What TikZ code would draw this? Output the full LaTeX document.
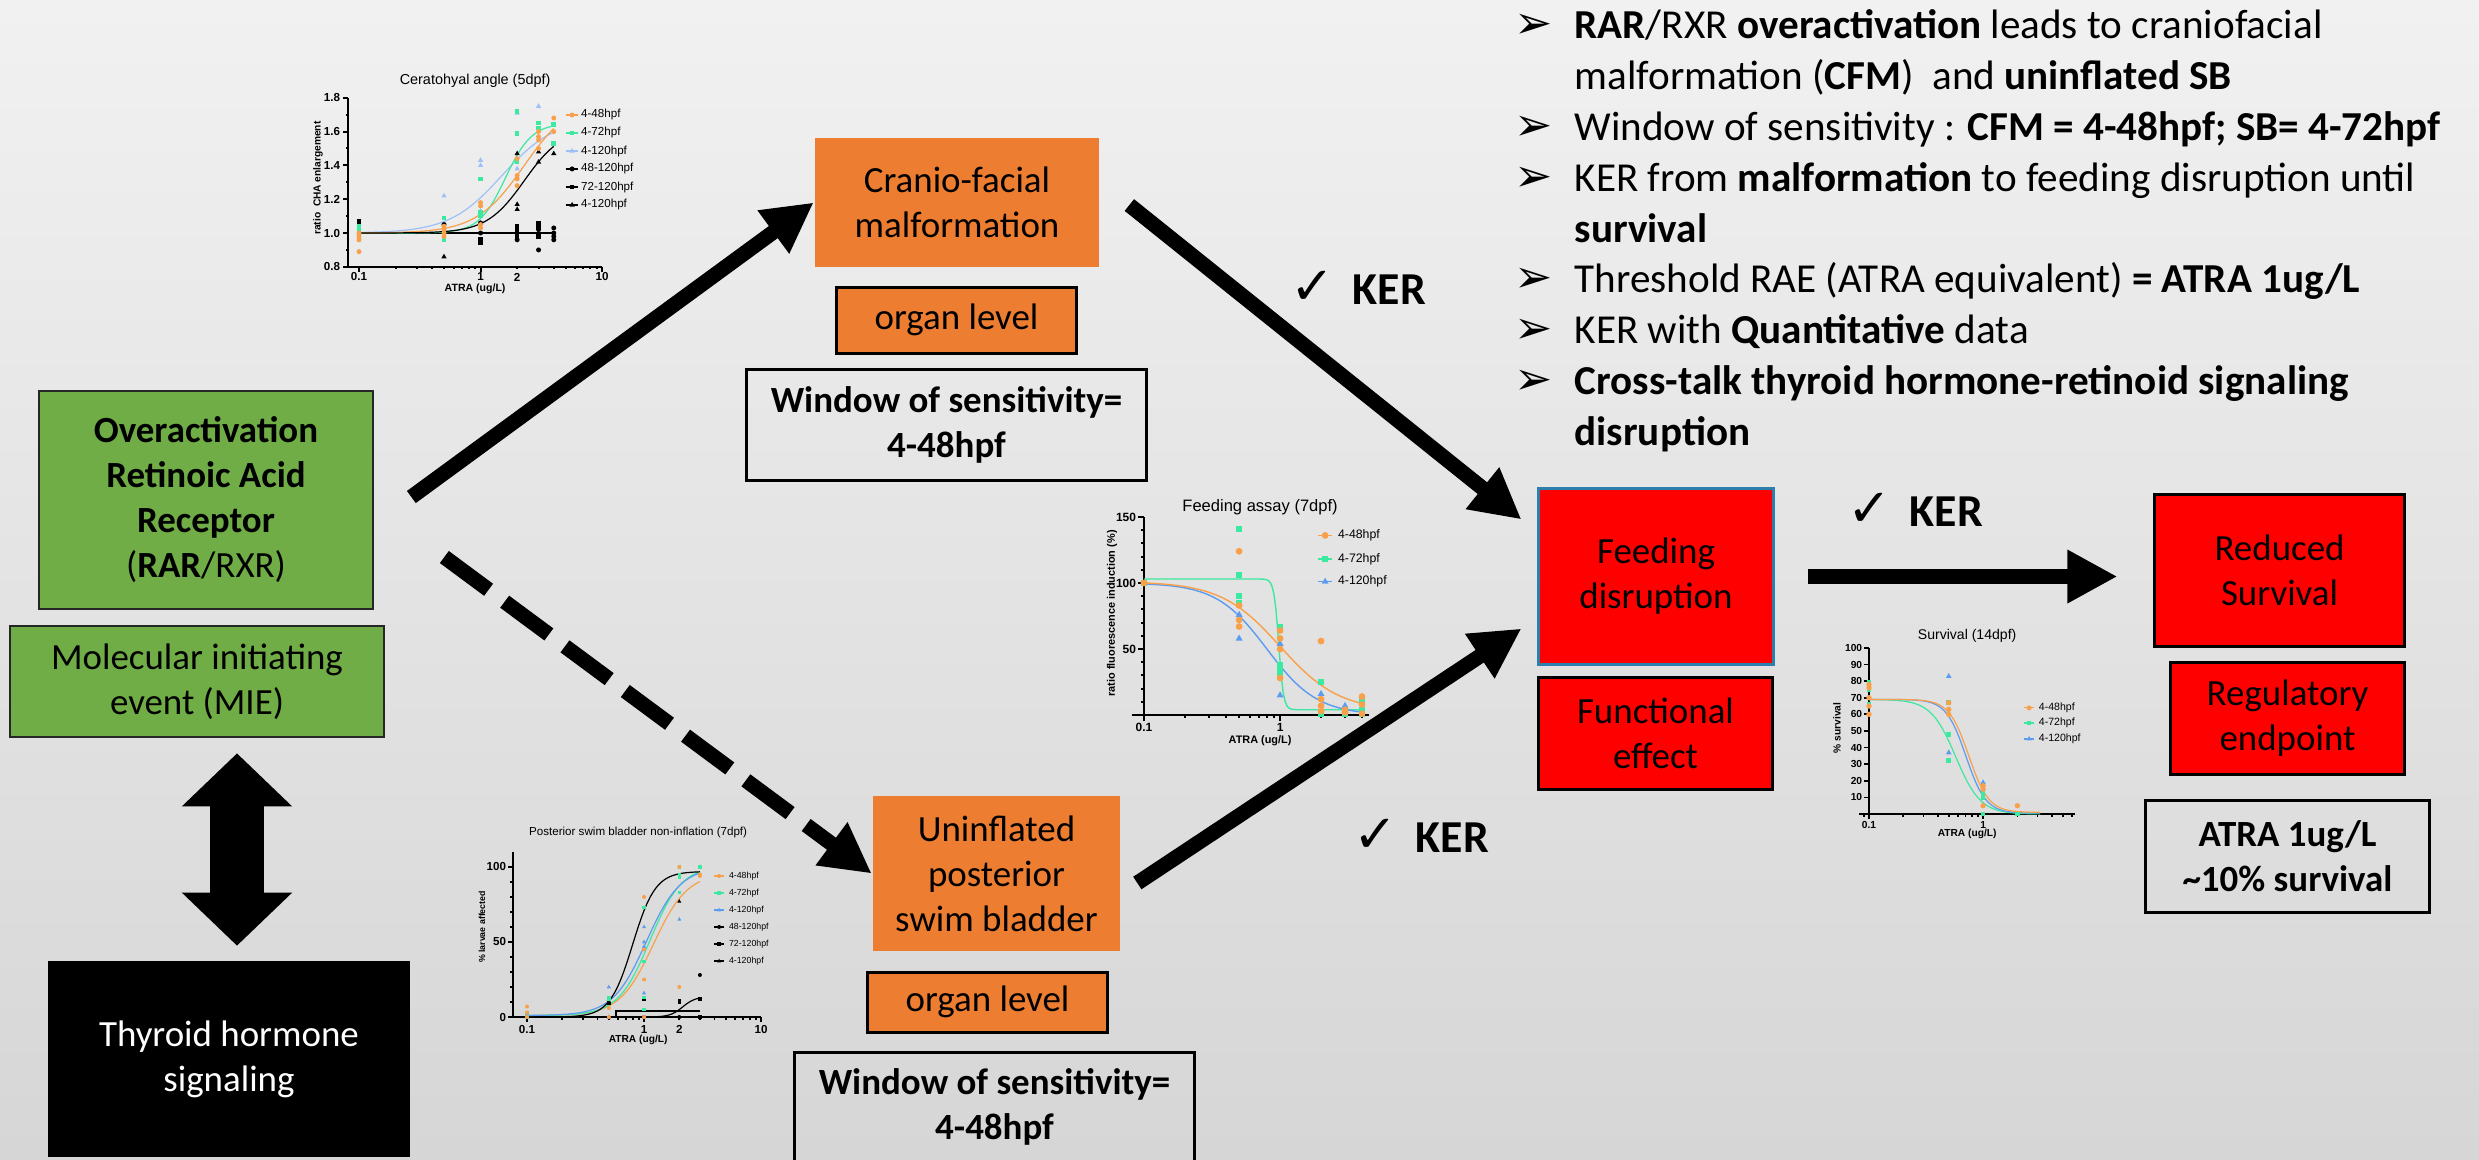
\documentclass[tikz,border=0pt]{standalone}
\usepackage{fontspec}
\setmainfont{Carlito}
\newfontfamily\plotfont{Liberation Sans}
\newfontfamily\symfont{DejaVu Sans}
\usetikzlibrary{positioning, arrows.meta, calc}
\definecolor{bgtop}{HTML}{F1F1F1}
\definecolor{bgbottom}{HTML}{D6D6D6}
\definecolor{aopgreen}{HTML}{70AD47}
\definecolor{aoporange}{HTML}{ED7D31}
\definecolor{aopred}{HTML}{FF0000}
\definecolor{aopblue}{HTML}{2E7DAF}
\definecolor{ptorange}{HTML}{F9A04B}
\definecolor{ptgreen}{HTML}{3DE8A0}
\definecolor{ptblue}{HTML}{5B9BF0}
\definecolor{ptlight}{HTML}{9CC0F7}

% plot helpers
\newcommand{\pfs}[1]{\plotfont\fontsize{#1}{#1}\selectfont}
\newcommand{\mkc}[3]{\foreach \px/\py in {#3}{\fill[#1] (\px,\py) circle[radius=#2];}}
\newcommand{\mks}[3]{\foreach \px/\py in {#3}{\fill[#1] (\px,\py) ++(-#2,-#2) rectangle ++(2*#2,2*#2);}}
\newcommand{\mkt}[3]{\foreach \px/\py in {#3}{\fill[#1] (\px,\py) ++(0,1.3*#2) -- ++(-1.15*#2,-2*#2) -- ++(2.3*#2,0) -- cycle;}}

\begin{document}
\begin{tikzpicture}[x=0.01cm, y=-0.01cm,
    declare function={sg(\qa,\qb,\qc,\qd,\qe)=\qb+(\qc-\qb)/(1+10^(min(4,max(-4,(\qd-\qa)*\qe))));},
    box/.style={align=center, inner sep=0pt, line width=0.025cm, font=\fontsize{10.5}{12.8}\selectfont},
    greenbox/.style={box, draw=black!85, fill=aopgreen},
    orangebox/.style={box, fill=aoporange},
    redbox/.style={box, draw=black, line width=0.03cm, fill=aopred},
    notebox/.style={box, draw=black, line width=0.03cm, font=\fontsize{10.5}{12.8}\selectfont\bfseries},
    bigarrow/.style={line width=0.15cm, -{Triangle[length=0.5cm,width=0.5cm]}},
    dasharrow/.style={bigarrow, dash pattern=on 0.55cm off 0.2cm},
    dblarrow/.style={line width=0.53cm, {Triangle[length=0.53cm,width=1.07cm]}-{Triangle[length=0.53cm,width=1.07cm]}},
    kerlabel/.style={anchor=west, inner sep=0pt, font=\fontsize{13}{15}\selectfont\bfseries},
    bullet/.style={anchor=base west, inner sep=0pt, font=\symfont\fontsize{13}{13}\selectfont},
    bulletline/.style={anchor=base west, inner sep=0pt, font=\fontsize{11.7}{14.2}\selectfont}]

  \useasboundingbox (0,0) rectangle (2479,1159);
  \shade[top color=bgtop, bottom color=bgbottom] (0,0) rectangle (2479,1159);

  % ceratohyal angle plot
  \begin{scope}[shift={(359,233)}, x=1.215cm, y=1.69cm, line width=0.02cm]
    \draw (-0.09,0.8) -- (-0.09,-0.2) -- (2,-0.2);
    \foreach \yv/\lab [count=\i] in {-0.2/0.8,0/1.0,0.2/1.2,0.4/1.4,0.6/1.6,0.8/1.8}
      \draw (-0.09,\yv) -- ++(-0.05cm,0) node[left, inner sep=0.02cm, font={\pfs{3.3}\bfseries}] (cay\i) {\lab};
    \foreach \yv in {-0.1,0.1,0.3,0.5,0.7} \draw (-0.09,\yv) -- ++(-0.025cm,0);
    \foreach \d in {0,1,2} \draw (\d,-0.2) -- ++(0,-0.05cm);
    \foreach \d in {0,1} \foreach \k in {2,...,9} \draw ({\d+log10(\k)},-0.2) -- ++(0,-0.025cm);
    \foreach \xv/\lab [count=\i] in {0/0.1,1/1,1.301/2,2/10}
      \node[font={\pfs{3.3}\bfseries}] (cax\i) at (\xv,-0.26) {\lab};
    \node[font={\pfs{4.1}}] (catitle) at (0.955,0.899) {Ceratohyal angle (5dpf)};
    \node[font={\pfs{2.9}\bfseries}, rotate=90] (caylab) at (-0.337,0.325) {ratio\ \ CHA enlargement};
    \node[font={\pfs{3}\bfseries}] (caxlab) at (0.955,-0.33) {ATRA (ug/L)};
    \draw[line width=0.025cm] (0,0) -- (1.602,0);
    \draw[ptlight, line width=0.012cm] plot[domain=0:1.602, samples=60] (\x,{sg(\x,0,0.68,1.176,2)});
    \draw[ptgreen, line width=0.012cm] plot[domain=0:1.602, samples=60] (\x,{sg(\x,0,0.65,1.204,4)});
    \draw[ptorange, line width=0.012cm] plot[domain=0:1.602, samples=60] (\x,{sg(\x,0,0.80,1.36,2.2)});
    \draw[line width=0.012cm] plot[domain=0:1.602, samples=60] (\x,{sg(\x,0,0.62,1.36,2.8)});
    \mkc{black}{0.025cm}{0.699/0.05,1/0,1/0.06,1.301/-0.04,1.477/-0.10,1.477/0.02,1.602/0.03,1.602/0,1.602/-0.02,1.602/-0.04}
    \mks{black}{0.023cm}{0/0.07,0/0.05,1/-0.06,1/-0.04,1.301/0.04,1.301/0.02,1.301/0,1.301/-0.02,1.477/0.06,1.477/0.04,1.477/-0.02}
    \mkt{black}{0.023cm}{0.699/-0.14,1.301/0.47,1.301/0.17,1.301/0.14,1.477/0.42,1.477/0.48,1.602/0.47}
    \mkt{ptlight}{0.023cm}{0/0,0.699/0.22,1/0.43,1/0.40,1/0.13,1.301/0.71,1.301/0.38,1.477/0.75}
    \mks{ptgreen}{0.023cm}{0/0.04,0/0.02,0.699/0.09,0.699/-0.04,1/0.32,1/0.10,1/0.12,1.301/0.72,1.301/0.59,1.301/0.42,1.477/0.65,1.477/0.62,1.602/0.64,1.602/0.53}
    \mkc{ptorange}{0.025cm}{0/-0.04,0/-0.02,0/0,0/-0.11,0.699/0.04,0.699/0.02,0.699/0,0.699/-0.02,1/0.18,1/0.16,1/0.03,1/0.05,1.301/0.44,1.301/0.34,1.301/0.32,1.301/0.28,1.477/0.60,1.477/0.57,1.477/0.55,1.477/0.50,1.602/0.68,1.602/0.60}
    % legend
    \foreach \c/\yv in {ptorange/0.698,ptgreen/0.592,ptlight/0.485,black/0.379,black/0.272,black/0.166}
      \draw[\c, line width=0.012cm] (1.70,\yv) -- (1.80,\yv);
    \mkc{ptorange}{0.025cm}{1.753/0.698}
    \mks{ptgreen}{0.023cm}{1.753/0.592}
    \mkt{ptlight}{0.023cm}{1.753/0.485}
    \mkc{black}{0.025cm}{1.753/0.379}
    \mks{black}{0.023cm}{1.753/0.272}
    \mkt{black}{0.023cm}{1.753/0.166}
    \foreach \yv/\lab [count=\i] in {0.698/4-48hpf,0.592/4-72hpf,0.485/4-120hpf,0.379/48-120hpf,0.272/72-120hpf,0.166/4-120hpf}
      \node[anchor=west, inner sep=0pt, font={\pfs{3.3}}] (caleg\i) at (1.819,\yv) {\lab};
  \end{scope}

  % feeding assay plot
  \begin{scope}[shift={(1144,715)}, x=1.36cm, y=0.0132cm, line width=0.02cm]
    \draw (0,150) -- (0,0);
    \draw (-0.09,0) -- (1.65,0);
    \foreach \yv in {0,10,...,150} \draw (0,\yv) -- ++(-0.03cm,0);
    \foreach \yv [count=\i] in {50,100,150}
      \draw (0,\yv) -- ++(-0.06cm,0) node[left, inner sep=0.01cm, font={\pfs{3.4}\bfseries}] (fay\i) {\yv};
    \foreach \d in {0,1} \draw (\d,0) -- ++(0,-0.06cm);
    \foreach \xv in {0.301,0.477,0.602,0.699,0.778,0.845,0.903,0.954,1.301,1.477,1.602} \draw (\xv,0) -- ++(0,-0.03cm);
    \node[font={\pfs{3.4}\bfseries}] (fax1) at (0,-9) {0.1};
    \node[font={\pfs{3.4}\bfseries}] (fax2) at (1,-9) {1};
    \node[font={\pfs{4.7}}] (fatitle) at (0.853,157.6) {Feeding assay (7dpf)};
    \node[font={\pfs{3.1}\bfseries}, rotate=90] (faylab) at (-0.235,77) {ratio fluorescence induction (\%)};
    \node[font={\pfs{3.1}\bfseries}] (faxlab) at (0.853,-19.7) {ATRA (ug/L)};
    \draw[ptgreen, line width=0.014cm] plot[domain=0:1.602, samples=120] (\x,{sg(\x,103,4,0.99,25)});
    \draw[ptblue, line width=0.014cm] plot[domain=0:1.602, samples=60] (\x,{sg(\x,100,0,0.903,2.34)});
    \draw[ptorange, line width=0.014cm] plot[domain=0:1.602, samples=60] (\x,{sg(\x,101,3,1.0,2)});
    \mks{ptgreen}{0.03cm}{0/100,0.699/141,0.699/106,0.699/90,0.699/85,1/67,1/38,1/35,1/32,1.301/25,1.301/1,1.477/1,1.602/11,1.602/4,1.602/1}
    \mkt{ptblue}{0.03cm}{0.699/76,0.699/58,1/54,1/15,1.301/16,1.477/7,1.477/3}
    \mkc{ptorange}{0.034cm}{0/100,0.699/124,0.699/83,0.699/72,0.699/67,1/64,1/58,1/50,1/28,1.301/56,1.301/12,1.301/7,1.301/3,1.477/4,1.477/2,1.602/14,1.602/8,1.602/1}
    % legend
    \foreach \c/\yv in {ptorange/136,ptgreen/118,ptblue/101}
      \draw[\c, line width=0.014cm] (1.28,\yv) -- (1.38,\yv);
    \mkc{ptorange}{0.034cm}{1.331/136}
    \mks{ptgreen}{0.03cm}{1.331/118}
    \mkt{ptblue}{0.03cm}{1.331/101}
    \foreach \yv/\lab [count=\i] in {136/4-48hpf,118/4-72hpf,101/4-120hpf}
      \node[anchor=west, inner sep=0pt, font={\pfs{3.5}}] (faleg\i) at (1.419,\yv) {\lab};
  \end{scope}

  % swim bladder plot
  \begin{scope}[shift={(527,1017)}, x=1.17cm, y=0.015cm, line width=0.018cm]
    \draw (-0.12,110) -- (-0.12,0) -- (2,0);
    \foreach \yv in {0,10,...,100} \draw (-0.12,\yv) -- ++(-0.025cm,0);
    \foreach \yv [count=\i] in {0,50,100}
      \draw (-0.12,\yv) -- ++(-0.05cm,0) node[left, inner sep=0.01cm, font={\pfs{3.3}\bfseries}] (sby\i) {\yv};
    \foreach \d in {0,1,2} \draw (\d,0) -- ++(0,-0.05cm);
    \foreach \d in {0,1} \foreach \k in {2,...,9} \draw ({\d+log10(\k)},0) -- ++(0,-0.025cm);
    \foreach \xv/\lab [count=\i] in {0/0.1,1/1,1.301/2,2/10}
      \node[font={\pfs{3.3}\bfseries}] (sbx\i) at (\xv,-8) {\lab};
    \node[font={\pfs{3.3}}] (sbtitle) at (0.949,122.7) {Posterior swim bladder non-inflation (7dpf)};
    \node[font={\pfs{2.5}\bfseries}, rotate=90] (sbylab) at (-0.385,60) {\% larvae affected};
    \node[font={\pfs{2.9}\bfseries}] (sbxlab) at (0.949,-15.3) {ATRA (ug/L)};
    \draw[ptorange, line width=0.012cm] plot[domain=0:1.477, samples=60] (\x,{sg(\x,1,96,1.08,3)});
    \draw[ptgreen, line width=0.012cm] plot[domain=0:1.477, samples=60] (\x,{sg(\x,1,101,1.05,3.2)});
    \draw[ptblue, line width=0.012cm] plot[domain=0:1.477, samples=60] (\x,{sg(\x,1,100,1.021,3)});
    \draw[line width=0.012cm] plot[domain=0:1.477, samples=60] (\x,{sg(\x,0,97,0.903,4.5)});
    \draw[line width=0.012cm] (0.76,0) -- (0.76,4) -- (1.477,4);
    \draw[line width=0.012cm] plot[domain=1.1:1.477, samples=30] (\x,{sg(\x,0,13.5,1.33,8)});
    \mkc{black}{0.02cm}{0.699/11,1/0,1.301/0,1.477/28}
    \mks{black}{0.018cm}{0.699/9,1/12,1.301/11,1.301/10,1.477/12,1.477/0}
    \mkt{black}{0.018cm}{1.301/77,0.699/0}
    \mkt{ptblue}{0.018cm}{0/2,0.699/20,1/60,1/50,1/47,1/16,1.301/65,1.477/100}
    \mks{ptgreen}{0.018cm}{0/3,0/0,0.699/13,0.699/12,1/73,1/37,1/13,1/5,1.301/100,1.301/95,1.301/93,1.301/83,1.477/100}
    \mkc{ptorange}{0.02cm}{0/7,0/3,0/0,0.699/6,0.699/0,1/80,1/45,1/25,1/0,1.301/100,1.301/20,1.477/95,1.477/94}
    % legend
    \foreach \c/\yv in {ptorange/94,ptgreen/82.7,ptblue/71.3,black/60,black/48.7,black/37.3}
      \draw[\c, line width=0.012cm] (1.60,\yv) -- (1.68,\yv);
    \mkc{ptorange}{0.02cm}{1.641/94}
    \mks{ptgreen}{0.018cm}{1.641/82.7}
    \mkt{ptblue}{0.018cm}{1.641/71.3}
    \mkc{black}{0.02cm}{1.641/60}
    \mks{black}{0.018cm}{1.641/48.7}
    \mkt{black}{0.018cm}{1.641/37.3}
    \foreach \yv/\lab [count=\i] in {94/4-48hpf,82.7/4-72hpf,71.3/4-120hpf,60/48-120hpf,48.7/72-120hpf,37.3/4-120hpf}
      \node[anchor=west, inner sep=0pt, font={\pfs{2.5}}] (sbleg\i) at (1.718,\yv) {\lab};
  \end{scope}

  % survival plot
  \begin{scope}[shift={(1869,814)}, x=1.14cm, y=0.0166cm, line width=0.018cm]
    \draw (0,100) -- (0,0);
    \draw (-0.09,0) -- (1.81,0);
    \foreach \yv [count=\i] in {10,20,...,100}
      \draw (0,\yv) -- ++(-0.05cm,0) node[left, inner sep=0.01cm, font={\pfs{2.9}\bfseries}] (suy\i) {\yv};
    \foreach \d in {0,1} \draw (\d,0) -- ++(0,-0.05cm);
    \foreach \xv in {-0.046,0.301,0.477,0.602,0.699,0.778,0.845,0.903,0.954,1.301,1.477,1.602,1.699,1.778} \draw (\xv,0) -- ++(0,-0.025cm);
    \node[font={\pfs{2.9}\bfseries}] (sux1) at (0,-6.6) {0.1};
    \node[font={\pfs{2.9}\bfseries}] (sux2) at (1,-6.6) {1};
    \node[font={\pfs{4}}] (sutitle) at (0.86,107) {Survival (14dpf)};
    \node[font={\pfs{2.9}\bfseries}, rotate=90] (suylab) at (-0.28,51.8) {\% survival};
    \node[font={\pfs{2.9}\bfseries}] (suxlab) at (0.86,-12) {ATRA (ug/L)};
    \draw[ptgreen, line width=0.012cm] plot[domain=0:1.5, samples=60] (\x,{sg(\x,69,0,0.76,4)});
    \draw[ptblue, line width=0.012cm] plot[domain=0:1.5, samples=60] (\x,{sg(\x,69,0.5,0.85,5)});
    \draw[ptorange, line width=0.012cm] plot[domain=0:1.5, samples=60] (\x,{sg(\x,69,1,0.875,5)});
    \mks{ptgreen}{0.024cm}{0/79,0/75,0/66,0.699/67,0.699/48,0.699/32,1/13,1/10,1/0,1.301/0}
    \mkt{ptblue}{0.024cm}{0.699/83,0.699/37,1/19}
    \mkc{ptorange}{0.027cm}{0/78,0/76,0/70,0/65,0/60,0.699/67,0.699/63,0.699/60,1/17,1/15,1/5,1.301/5}
    % legend
    \foreach \c/\yv in {ptorange/63.9,ptgreen/54.8,ptblue/45.2}
      \draw[\c, line width=0.012cm] (1.36,\yv) -- (1.45,\yv);
    \mkc{ptorange}{0.025cm}{1.404/63.9}
    \mks{ptgreen}{0.022cm}{1.404/54.8}
    \mkt{ptblue}{0.022cm}{1.404/45.2}
    \foreach \yv/\lab [count=\i] in {63.9/4-48hpf,54.8/4-72hpf,45.2/4-120hpf}
      \node[anchor=west, inner sep=0pt, font={\pfs{3}}] (suleg\i) at (1.482,\yv) {\lab};
  \end{scope}

  % key events
  \node[greenbox, minimum width=3.34cm, minimum height=2.18cm] (rar) at (206,500)
    {\textbf{Overactivation}\\\textbf{Retinoic Acid}\\\textbf{Receptor}\\(\textbf{RAR}/RXR)};
  \node[greenbox, minimum width=3.74cm, minimum height=1.11cm] (mie) at (197,681.5)
    {Molecular initiating\\event (MIE)};
  \node[box, fill=black, text=white, minimum width=3.62cm, minimum height=1.96cm] (thyroid) at (229,1059)
    {Thyroid hormone\\signaling};
  \node[orangebox, minimum width=2.84cm, minimum height=1.29cm] (cranio) at (957,202.5)
    {Cranio-facial\\malformation};
  \node[orangebox, draw=black, line width=0.03cm, minimum width=2.39cm, minimum height=0.66cm] (organa) at (956.5,320)
    {organ level};
  \node[notebox, minimum width=3.99cm, minimum height=1.10cm] (windowa) at (946.5,425)
    {Window of sensitivity=\\4-48hpf};
  \node[orangebox, minimum width=2.47cm, minimum height=1.55cm] (swim) at (996.5,873.5)
    {Uninflated\\posterior\\swim bladder};
  \node[orangebox, draw=black, line width=0.03cm, minimum width=2.39cm, minimum height=0.60cm] (organb) at (987.5,1002)
    {organ level};
  \node[notebox, minimum width=3.99cm, minimum height=1.10cm] (windowb) at (994.5,1107)
    {Window of sensitivity=\\4-48hpf};
  \node[redbox, draw=aopblue, minimum width=2.34cm, minimum height=1.75cm] (feeding) at (1656,576.5)
    {Feeding\\disruption};
  \node[redbox, minimum width=2.33cm, minimum height=1.11cm] (functional) at (1655.5,733.5)
    {Functional\\effect};
  \node[redbox, minimum width=2.49cm, minimum height=1.51cm] (reduced) at (2279.5,570.5)
    {Reduced\\Survival};
  \node[redbox, minimum width=2.33cm, minimum height=1.11cm] (regulatory) at (2287.5,718.5)
    {Regulatory\\endpoint};
  \node[notebox, minimum width=2.83cm, minimum height=1.11cm] (atra) at (2287.5,856.5)
    {ATRA 1ug/L\\\textasciitilde10\% survival};

  % relationships
  \draw[bigarrow] ($(rar.east)+(37,-3)$) -- (cranio.west);
  \draw[bigarrow] ($(cranio.east)+(29,2.5)$) -- ($(feeding.north west)+(-16,32)$);
  \draw[dasharrow] ($(rar.east)+(70,57)$) -- (swim.west);
  \draw[bigarrow] ($(swim.east)+(16,9.5)$) -- ($(feeding.south west)+(-16,-37)$);
  \draw[bigarrow] ($(feeding.east)+(33,0)$) -- ($(reduced.west)+(-36,6)$);
  \draw[dblarrow] ($(mie.south)+(40,15)$) -- ($(thyroid.north)+(8,-14)$);

  \node[kerlabel] (kera) at (1290,288) {{\symfont\mdseries\fontsize{15}{15}\selectfont ✓}\hspace{0.18cm}KER};
  \node[kerlabel] (kerb) at (1847,510) {{\symfont\mdseries\fontsize{15}{15}\selectfont ✓}\hspace{0.18cm}KER};
  \node[kerlabel] (kerc) at (1353,836) {{\symfont\mdseries\fontsize{15}{15}\selectfont ✓}\hspace{0.18cm}KER};

  % summary
  \foreach \yv [count=\i] in {38,140,191,292,343,394}
    \node[bullet] (mark\i) at (1514,\yv) {➢};
  \node[bulletline] (linea) at (1574,38) {\textbf{RAR}/RXR \textbf{overactivation} leads to craniofacial};
  \node[bulletline] (lineb) at (1574,89) {malformation (\textbf{CFM})\ \ and \textbf{uninflated SB}};
  \node[bulletline] (linec) at (1574,140) {Window of sensitivity : \textbf{CFM = 4-48hpf; SB= 4-72hpf}};
  \node[bulletline] (lined) at (1574,191) {KER from \textbf{malformation} to feeding disruption until};
  \node[bulletline] (linee) at (1574,242) {\textbf{survival}};
  \node[bulletline] (linef) at (1574,292) {Threshold RAE (ATRA equivalent) \textbf{= ATRA 1ug/L}};
  \node[bulletline] (lineg) at (1574,343) {KER with \textbf{Quantitative} data};
  \node[bulletline] (lineh) at (1574,394) {\textbf{Cross-talk thyroid hormone-retinoid signaling}};
  \node[bulletline] (linei) at (1574,445) {\textbf{disruption}};
\end{tikzpicture}
\end{document}
